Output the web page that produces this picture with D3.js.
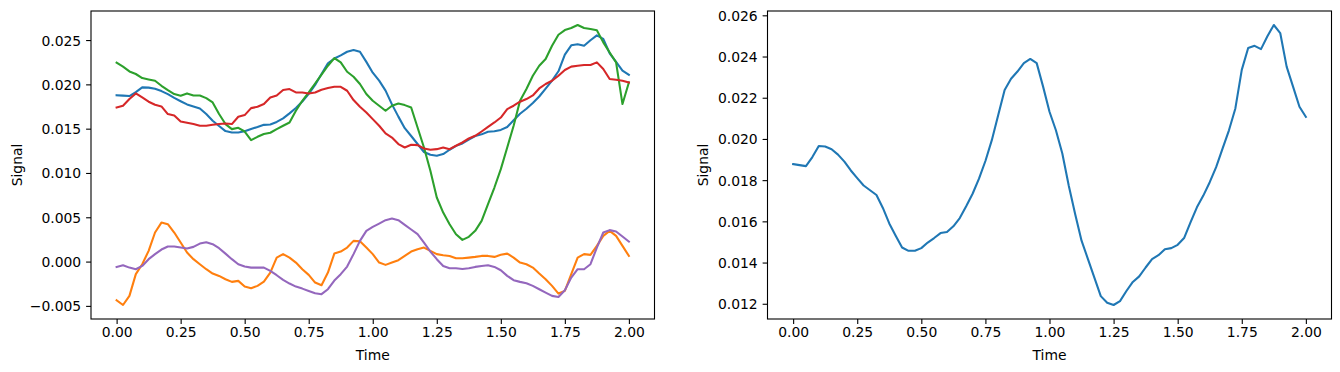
<!DOCTYPE html>
<html>
<head>
<meta charset="utf-8">
<script src="https://cdn.jsdelivr.net/npm/d3@7"></script>
<style>
  body { margin: 0; background: #fff; }
  svg text { font-family: "DejaVu Sans", sans-serif; font-size: 13.9px; fill: #000; }
</style>
</head>
<body>
<svg id="chart" width="1340" height="372"></svg>
<script>
const width = 1340;
const height = 372;

// sample times, 0 to 2 in steps of 0.025
const time = d3.range(81).map(i => i * 0.025);

const ch0 = [0.01878, 0.01873, 0.01868, 0.01912, 0.01966, 0.01963, 0.0195, 0.01924, 0.0189, 0.01847,
  0.0181, 0.01774, 0.01751, 0.01728, 0.01665, 0.0159, 0.0153, 0.01473, 0.01457, 0.01457,
  0.0147, 0.01497, 0.01519, 0.01543, 0.01548, 0.01576, 0.01616, 0.01673, 0.01734, 0.01807,
  0.01893, 0.01994, 0.02116, 0.02238, 0.02292, 0.02327, 0.02368, 0.02388, 0.02368, 0.02254,
  0.02132, 0.02042, 0.01929, 0.01774, 0.01636, 0.01506, 0.01417, 0.01327, 0.01237, 0.01205,
  0.01194, 0.01213, 0.01262, 0.01306, 0.01333, 0.01376, 0.01417, 0.01436, 0.01465, 0.0147,
  0.01486, 0.01519, 0.01595, 0.01668, 0.01725, 0.0179, 0.01863, 0.01953, 0.02042, 0.02148,
  0.02335, 0.02441, 0.02452, 0.02436, 0.02498, 0.02553, 0.02514, 0.02351, 0.02254, 0.02156,
  0.02107];

const ch1 = [-0.00436, -0.0049, -0.00387, -0.00142, -0.0003, 0.00121, 0.00328, 0.0044, 0.00422, 0.00328,
  0.00215, 0.00102, 0.00027, -0.0003, -0.00086, -0.00135, -0.00162, -0.00199, -0.00229, -0.00218,
  -0.00282, -0.003, -0.00274, -0.00226, -0.00124, 0.00045, 0.00084, 0.00045, -0.00011, -0.00086,
  -0.0015, -0.00237, -0.00267, -0.00124, 0.00090, 0.00113, 0.00158, 0.00234, 0.0023, 0.00158,
  0.00084, -0.00011, -0.00037, -0.00011, 0.00016, 0.00064, 0.00113, 0.0014, 0.00158, 0.00121,
  0.00084, 0.00072, 0.00064, 0.00038, 0.00038, 0.00045, 0.00053, 0.00064, 0.00064, 0.00053,
  0.00076, 0.0009, 0.00045, -0.00011, -0.0003, -0.00068, -0.00135, -0.00199, -0.00274, -0.00361,
  -0.00331, -0.00142, 0.00045, 0.00084, 0.00076, 0.00177, 0.0029, 0.00347, 0.0029, 0.00177,
  0.00064];

const ch2 = [0.02244, 0.022, 0.02146, 0.02117, 0.02071, 0.02056, 0.02041, 0.01984, 0.01936, 0.01891,
  0.01871, 0.01898, 0.01875, 0.01875, 0.01845, 0.01796, 0.01665, 0.01552, 0.01495, 0.0151,
  0.01468, 0.01371, 0.01408, 0.01439, 0.01454, 0.01495, 0.01533, 0.0157, 0.01702, 0.01815,
  0.01909, 0.0201, 0.02109, 0.0221, 0.02297, 0.02248, 0.02142, 0.02086, 0.02004, 0.01891,
  0.01815, 0.01759, 0.01702, 0.01759, 0.01785, 0.01766, 0.01739, 0.01513, 0.01288, 0.01024,
  0.00723, 0.00553, 0.00422, 0.00309, 0.00245, 0.00279, 0.00347, 0.0046, 0.00648, 0.00836,
  0.01043, 0.01288, 0.01533, 0.01815, 0.01947, 0.02097, 0.0221, 0.02286, 0.02436, 0.0256,
  0.02613, 0.02636, 0.0267, 0.02636, 0.02625, 0.0261, 0.02474, 0.0236, 0.02248, 0.01778,
  0.02022];

const ch3 = [0.01739, 0.01759, 0.01834, 0.01898, 0.01852, 0.01804, 0.0177, 0.01751, 0.01665, 0.01649,
  0.01581, 0.01566, 0.01552, 0.01533, 0.01533, 0.01544, 0.01552, 0.01559, 0.01552, 0.01634,
  0.01653, 0.01732, 0.01747, 0.01778, 0.01852, 0.01875, 0.01936, 0.01947, 0.01909, 0.01909,
  0.01898, 0.01909, 0.0194, 0.01958, 0.01973, 0.01973, 0.01928, 0.01823, 0.01747, 0.01683,
  0.01608, 0.01533, 0.01446, 0.014, 0.01326, 0.01288, 0.01318, 0.01314, 0.01276, 0.01262,
  0.01269, 0.01288, 0.01269, 0.01307, 0.01344, 0.01389, 0.0142, 0.01468, 0.01521, 0.0157,
  0.01626, 0.01721, 0.01759, 0.01804, 0.01834, 0.01875, 0.01954, 0.02004, 0.02041, 0.02097,
  0.02162, 0.022, 0.0221, 0.02218, 0.02218, 0.02248, 0.02173, 0.0206, 0.02052, 0.02041,
  0.02022];

const ch4 = [-0.0006, -0.00041, -0.00068, -0.00086, -0.00049, 0.00027, 0.00084, 0.00136, 0.0017, 0.0017,
  0.00158, 0.00147, 0.00166, 0.00203, 0.00219, 0.00196, 0.00151, 0.0009, 0.00027, -0.0003,
  -0.00056, -0.00068, -0.00068, -0.00068, -0.00105, -0.00154, -0.00207, -0.00248, -0.00282, -0.00305,
  -0.00331, -0.00357, -0.00368, -0.00312, -0.00214, -0.00142, -0.00056, 0.00084, 0.00234, 0.00347,
  0.00392, 0.00429, 0.00467, 0.00486, 0.00467, 0.00415, 0.00362, 0.00309, 0.00215, 0.00113,
  0.00027, -0.00049, -0.00075, -0.00075, -0.00083, -0.00075, -0.0006, -0.00049, -0.00041, -0.0006,
  -0.00098, -0.00161, -0.0021, -0.00229, -0.00244, -0.00274, -0.00312, -0.0035, -0.00387, -0.00399,
  -0.00323, -0.00181, -0.00086, -0.00086, -0.0003, 0.00158, 0.00328, 0.00355, 0.0034, 0.00283,
  0.00226];

const colors = ["#1f77b4", "#ff7f0e", "#2ca02c", "#d62728", "#9467bd"];
const xTicks = [0, 0.25, 0.5, 0.75, 1.0, 1.25, 1.5, 1.75, 2.0];
const leftYTicks = [-0.005, 0, 0.005, 0.01, 0.015, 0.02, 0.025];
const rightYTicks = [0.012, 0.014, 0.016, 0.018, 0.02, 0.022, 0.024, 0.026];

const svg = d3.select("#chart").attr("viewBox", [0, 0, width, height]);

const fmtMinus = f => v => f(v).replace("-", "\u2212");

// matplotlib-like auto limits: data extent with 5% margin
function padded(lo, hi) {
  const m = (hi - lo) * 0.05;
  return [lo - m, hi + m];
}

function drawPanel(box, seriesList, seriesColors, yTicks, yFmt) {
  const x = d3.scaleLinear().domain(padded(0, 2)).range([box.left, box.right]);
  const all = seriesList.flat();
  const y = d3.scaleLinear().domain(padded(d3.min(all), d3.max(all))).range([box.bottom, box.top]);

  const line = d3.line().x((d, i) => x(time[i])).y(d => y(d));

  const g = svg.append("g");

  seriesList.forEach((s, k) => {
    g.append("path")
      .datum(s)
      .attr("d", line)
      .attr("fill", "none")
      .attr("stroke", seriesColors[k])
      .attr("stroke-width", 2.08)
      .attr("stroke-linejoin", "round")
      .attr("stroke-linecap", "square");
  });

  // x axis
  const xa = g.append("g").attr("transform", `translate(0,${box.bottom})`)
    .call(d3.axisBottom(x).tickValues(xTicks).tickFormat(d3.format(".2f")).tickSize(4.9).tickPadding(3.6));
  // y axis
  const ya = g.append("g").attr("transform", `translate(${box.left},0)`)
    .call(d3.axisLeft(y).tickValues(yTicks).tickFormat(fmtMinus(d3.format(yFmt))).tickSize(4.9).tickPadding(4.9));

  [xa, ya].forEach(a => {
    a.select(".domain").remove();
    a.selectAll("line").attr("stroke", "#000").attr("stroke-width", 1.1);
    a.selectAll("text").attr("font-family", null).attr("font-size", null).attr("fill", "#000");
  });
  ya.selectAll("text").attr("dy", "0.36em");

  // frame
  g.append("rect")
    .attr("x", box.left).attr("y", box.top)
    .attr("width", box.right - box.left).attr("height", box.bottom - box.top)
    .attr("fill", "none").attr("stroke", "#000").attr("stroke-width", 1.1);

  g.append("text")
    .attr("x", (box.left + box.right) / 2).attr("y", 360)
    .attr("text-anchor", "middle")
    .text("Time");

  g.append("text")
    .attr("transform", `translate(${box.labelX},${(box.top + box.bottom) / 2}) rotate(-90)`)
    .attr("text-anchor", "middle")
    .text("Signal");
}

drawPanel({ left: 91, right: 654.5, top: 11, bottom: 319, labelX: 21.5 },
  [ch0, ch1, ch2, ch3, ch4], colors, leftYTicks, ".3f");

drawPanel({ left: 767.5, right: 1331.5, top: 11, bottom: 319, labelX: 707.5 },
  [ch0], [colors[0]], rightYTicks, ".3f");
</script>
</body>
</html>
